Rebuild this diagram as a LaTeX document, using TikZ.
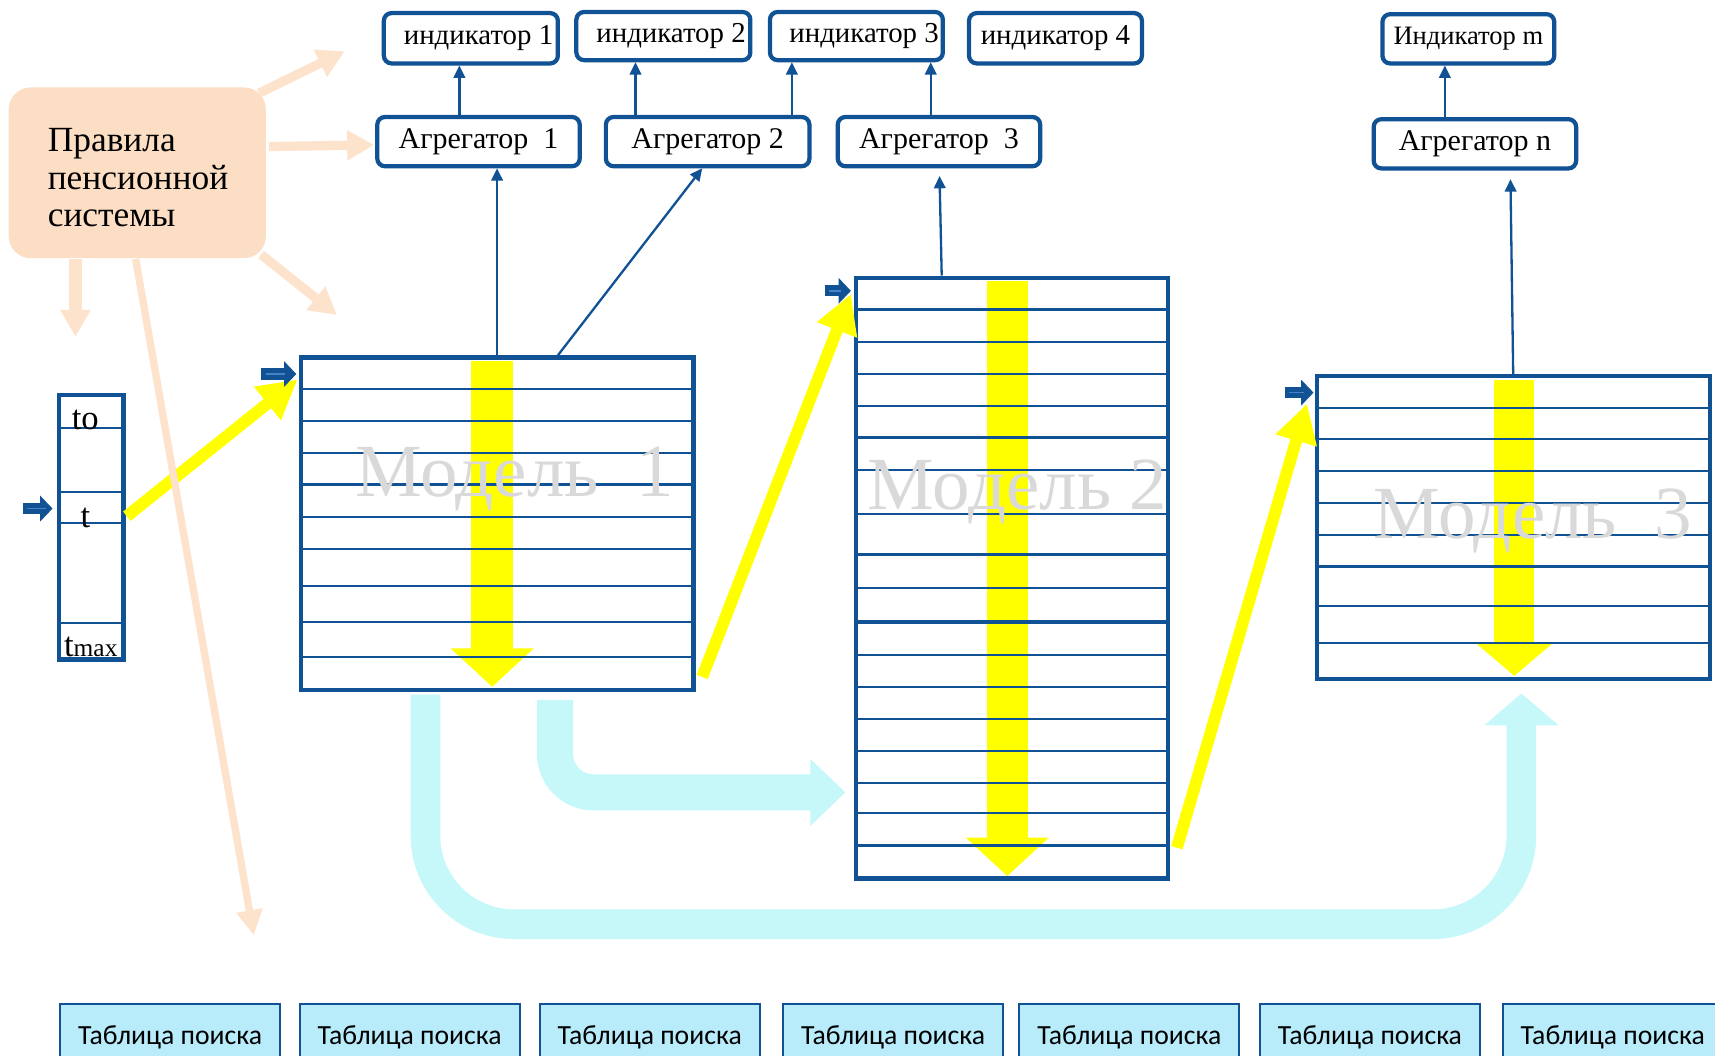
\documentclass[tikz,border=0pt]{standalone}
\usepackage{fontspec}
\setmainfont{Liberation Serif}
\newfontfamily\tabfont{Carlito}
\usetikzlibrary{arrows.meta,calc}
\definecolor{myblue}{RGB}{16,82,148}
\definecolor{lightbl}{RGB}{70,130,200}
\definecolor{peach}{RGB}{252,222,196}
\definecolor{peachar}{RGB}{253,226,204}
\definecolor{cyanar}{RGB}{198,248,250}
\definecolor{tabfill}{RGB}{184,236,251}
\definecolor{ylw}{RGB}{255,255,0}
\definecolor{mgray}{RGB}{217,217,217}
\begin{document}
\begin{tikzpicture}[x=0.01cm,y=-0.01cm,
  aggbox/.style={draw=myblue, line width=1.1pt, rounded corners=2pt, fill=white, minimum width=1.85cm, minimum height=0.45cm, inner sep=0pt, font=\fontsize{7.8}{9}\selectfont},
  indbox/.style={draw=myblue, line width=1.1pt, rounded corners=2pt, fill=white, minimum width=1.58cm, minimum height=0.45cm, inner sep=0pt, font=\fontsize{7.5}{9}\selectfont},
  modelbox/.style={draw=myblue, line width=1.1pt, fill=white, inner sep=0pt},
  rowline/.style={myblue, line width=0.55pt},
  conn/.style={myblue, line width=0.6pt, -{Triangle[width=3pt,length=3.2pt]}},
  yarrow/.style={ylw, line width=3.1pt, -{Triangle[width=10.5pt,length=10pt]}},
  ybar/.style={ylw, line width=10.8pt, -{Triangle[width=21pt,length=10pt]}},
  peacharrow/.style={peachar, line width=2.4pt, -{Triangle[width=7.4pt,length=7pt]}},
  barrow/.style={myblue, line width=2.9pt, -{Triangle[width=6.5pt,length=3.2pt]}},
  tabbox/.style={draw=myblue, line width=0.5pt, fill=tabfill, minimum width=2.01cm, minimum height=0.6cm, inner sep=0pt, font=\tabfont\fontsize{7.2}{8}\selectfont},
  modeltext/.style={text=mgray, font=\fontsize{19.5}{20}\selectfont, anchor=base, inner sep=0pt},
  ttext/.style={font=\fontsize{9}{10}\selectfont, anchor=base, inner sep=0pt}
]
\useasboundingbox (0,0) rectangle (1568,965);
\fill[white] (0,0) rectangle (1568,965);

% ---------- nodes ----------
\node[aggbox] (agg1) at (437.5,129.5) {Агрегатор\ \ 1};
\node[aggbox, minimum width=1.86cm] (agg2) at (647,129.5) {Агрегатор 2};
\node[aggbox] (agg3) at (858.5,129.5) {Агрегатор\ \ 3};
\node[aggbox] (aggn) at (1348.5,131.5) {Агрегатор n};

\node[indbox, minimum width=1.59cm, minimum height=0.46cm] (ind1) at (430.5,35) {\hspace*{4pt}индикатор 1};
\node[indbox, minimum width=1.59cm, minimum height=0.44cm] (ind2) at (606.5,33) {\hspace*{4pt}индикатор 2};
\node[indbox, minimum height=0.44cm] (ind3) at (783,33) {\hspace*{4pt}индикатор 3};
\node[indbox, minimum height=0.46cm] (ind4) at (965,35) {индикатор 4};
\node[indbox, minimum width=1.57cm, font=\fontsize{6.9}{8}\selectfont] (indm) at (1342.5,35.5) {Индикатор m};

% cyan arrows
\coordinate (ca1) at (773,724.5);
\coordinate (ca2) at (1391,634);
\coordinate (m1s) at (454.5,631);
\draw[cyanar, line width=9.4pt, rounded corners=10pt, -{Triangle[width=16.8pt,length=9.1pt]}]
  ($(m1s)+(53,9)$) |- (ca1);
\draw[cyanar, line width=7.7pt, rounded corners=23pt, -{Triangle[width=18.8pt,length=8.3pt]}]
  ($(m1s)+(-65.5,4)$) -- (389,845) -- (1391,845) -- (ca2);

% rules box
\node[fill=peach, rounded corners=5.7pt, minimum width=2.35cm, minimum height=1.56cm, inner sep=0pt] (rules) at (125.5,158) {};
\node[anchor=north west, align=left, inner sep=0pt, font=\fontsize{9.2}{9.7}\selectfont] (rtext) at (43,117) {Правила\\пенсионной\\системы};

% models
\node[modelbox, minimum width=3.59cm, minimum height=3.04cm] (m1) at (454.5,479) {};
\node[modelbox, minimum width=2.85cm, minimum height=5.49cm] (m2) at (925.5,528.5) {};
\node[modelbox, minimum width=3.59cm, minimum height=2.77cm] (m3) at (1383.5,482.5) {};
\node[modelbox, minimum width=0.59cm, minimum height=2.42cm] (tcol) at (83.5,482) {};

% yellow bars
\draw[ybar] (450,330) -- (450,628);
\draw[ybar] (921,257) -- (921,801);
\draw[ybar, line width=10.5pt, -{Triangle[width=20.2pt,length=8.8pt]}] (1384.5,347) -- (1384.5,618);

% rows
\foreach \y in {356,385,414,443,473,502,536,569,601}
  \draw[rowline] (m1.west |- 0,\y) -- (m1.east |- 0,\y);
\foreach \y in {283,313,342,371,400,430,470,507,538,599,628,657,687,716,743,773}
  \draw[rowline] (m2.west |- 0,\y) -- (m2.east |- 0,\y);
\draw[myblue, line width=1.1pt] (m2.west |- 0,569) -- (m2.east |- 0,569);
\foreach \y in {373,401,431,460,489,518,554,588}
  \draw[rowline] (m3.west |- 0,\y) -- (m3.east |- 0,\y);
\foreach \y in {391,450,478,570}
  \draw[rowline] (tcol.west |- 0,\y) -- (tcol.east |- 0,\y);

% model labels
\node[modeltext] (m1t) at (470.5,454) {Модель\ \ 1};
\node[modeltext] (m2t) at (930.5,466) {Модель 2};
\node[modeltext] (m3t) at (1401.5,492) {Модель\ \ 3};

% time labels
\node[ttext] (tto) at (78,393) {to};
\node[ttext] (tt) at (78,482) {t};
\node[ttext] (tmax) at (83,600) {t{\fontsize{6.6}{7}\selectfont max}};

% peach arrows
\coordinate (pe1) at (315,47);
\coordinate (pe3) at (308,288);
\coordinate (pe4) at (69,308);
\coordinate (pe5) at (232,855);
\draw[peacharrow] ($(rules.north east)+(-7,6)$) -- (pe1);
\draw[peacharrow] ($(rules.east)+(2,-24)$) -- ($(agg1.west)+(-1,3)$);
\draw[peacharrow] ($(rules.south east)+(-5,-4)$) -- (pe3);
\draw[peacharrow, line width=3.2pt] ($(rules.south)+(-56.5,0)$) -- (pe4);

% yellow connectors
\draw[yarrow] ($(tcol.east)+(1,-10)$) -- ($(m1.north west)+(-1,22)$);
\draw[peacharrow, line width=1.9pt, -{Triangle[width=6.5pt,length=6.5pt]}] ($(rules.south)+(-1.5,0)$) -- (pe5);
\draw[yarrow] ($(m1.south east)+(6,-14)$) -- ($(m2.north west)+(-3,17)$);
\draw[yarrow] ($(m2.south east)+(6,-30)$) -- ($(m3.north west)+(-7,27)$);

% blue pointer arrows
\coordinate (ba0) at (21,465);
\draw[barrow] (ba0) -- ($(tcol.west)+(-4,-17)$);
\draw[barrow] ($(m1.north west)+(-34,17)$) -- ($(m1.north west)+(-2,17)$);
\draw[barrow] ($(m2.north west)+(-27,14)$) -- ($(m2.north west)+(-3,14)$);
\draw[barrow] ($(m3.north west)+(-27,17)$) -- ($(m3.north west)+(-1,17)$);
\draw[lightbl, line width=0.4pt] (25,465) -- (42,465);
\draw[lightbl, line width=0.4pt] ($(m1.north west)+(-30,17)$) -- ($(m1.north west)+(-12,17)$);
\draw[lightbl, line width=0.4pt] ($(m2.north west)+(-23,14)$) -- ($(m2.north west)+(-12,14)$);
\draw[lightbl, line width=0.4pt] ($(m3.north west)+(-23,17)$) -- ($(m3.north west)+(-10,17)$);

% thin connectors
\coordinate (k1) at ($(agg1.north)+(-17.5,0)$);
\draw[conn] (k1) -- (k1 |- ind1.south);
\coordinate (k2) at ($(agg2.north)+(-66,0)$);
\draw[conn] (k2) -- (k2 |- ind2.south);
\coordinate (k3) at ($(agg2.north)+(77,0)$);
\draw[conn] (k3) -- (k3 |- ind3.south);
\coordinate (k4) at ($(agg3.north)+(-7.5,0)$);
\draw[conn] (k4) -- (k4 |- ind3.south);
\coordinate (k5) at ($(aggn.north)+(-27.5,0)$);
\draw[conn] (k5) -- (k5 |- indm.south);
\draw[conn] (m1.north) -- (m1.north |- agg1.south);
\draw[conn] ($(m1.north)+(55.5,0)$) -- ($(agg2.south)+(-5,0)$);
\draw[conn] ($(m2.north)+(-64.5,0)$) -- ($(agg3.south)+(0.5,7)$);
\draw[conn] (m3.north) -- ($(aggn.south)+(32.5,8)$);

% lookup tables
\foreach \i/\x in {1/155.5,2/374.5,3/594,4/816.5,5/1032.5,6/1252.5,7/1474.5}
  \node[tabbox] (tab\i) at (\x,948) {Таблица поиска};
\end{tikzpicture}
\end{document}
